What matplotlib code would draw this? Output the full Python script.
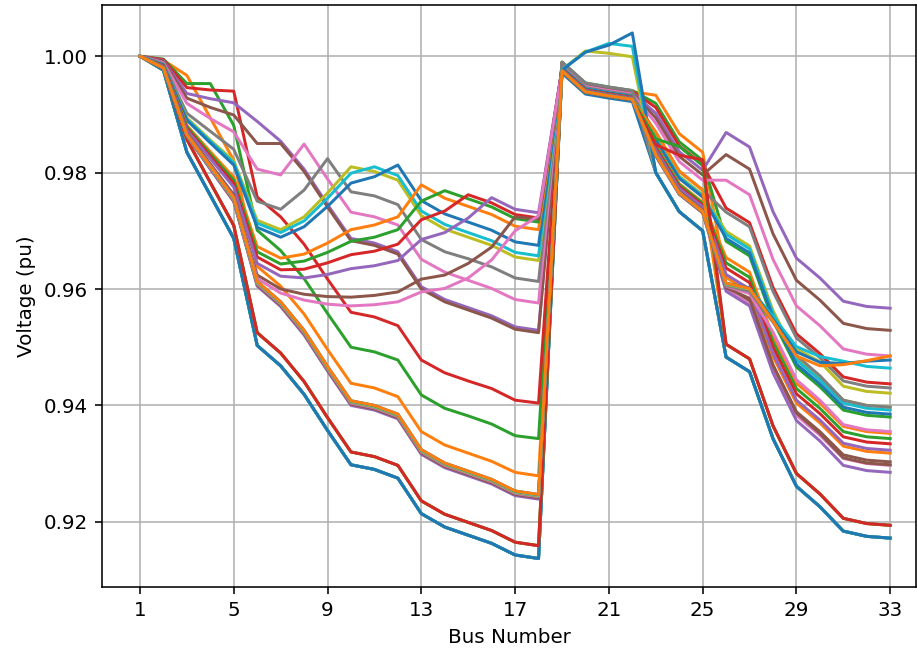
import matplotlib
matplotlib.use("Agg")
import matplotlib.pyplot as plt

# bus numbers of the IEEE 33-bus feeder
bus = list(range(1, 34))

# voltage profiles (pu), one per DG location (bus 2 ... bus 33)
dg02 = [1.0000, 0.9976, 0.9835, 0.9761, 0.9687, 0.9503, 0.9468, 0.9419, 0.9357, 0.9298, 0.9290, 0.9275, 0.9214, 0.9191, 0.9177, 0.9163, 0.9143, 0.9137,
        0.9971, 0.9935, 0.9928, 0.9922, 0.9800, 0.9733, 0.9700,
        0.9483, 0.9458, 0.9343, 0.9261, 0.9226, 0.9184, 0.9175, 0.9172]
dg03 = [1.0000, 0.9993, 0.9967, 0.9894, 0.9821, 0.9639, 0.9605, 0.9557, 0.9496, 0.9438, 0.9430, 0.9415, 0.9355, 0.9332, 0.9318, 0.9304, 0.9285, 0.9279,
        0.9988, 0.9952, 0.9945, 0.9939, 0.9933, 0.9867, 0.9835,
        0.9620, 0.9595, 0.9484, 0.9404, 0.9370, 0.9330, 0.9321, 0.9318]
dg04 = [1.0000, 0.9995, 0.9953, 0.9953, 0.9881, 0.9701, 0.9666, 0.9618, 0.9558, 0.9500, 0.9492, 0.9478, 0.9418, 0.9395, 0.9382, 0.9368, 0.9348, 0.9343,
        0.9990, 0.9954, 0.9947, 0.9941, 0.9919, 0.9853, 0.9821,
        0.9682, 0.9657, 0.9546, 0.9466, 0.9432, 0.9392, 0.9383, 0.9380]
dg05 = [1.0000, 0.9994, 0.9946, 0.9942, 0.9940, 0.9758, 0.9724, 0.9677, 0.9617, 0.9560, 0.9552, 0.9537, 0.9478, 0.9456, 0.9442, 0.9429, 0.9409, 0.9404,
        0.9989, 0.9953, 0.9946, 0.9940, 0.9912, 0.9846, 0.9814,
        0.9739, 0.9714, 0.9603, 0.9523, 0.9489, 0.9449, 0.9440, 0.9437]
dg06 = [1.0000, 0.9992, 0.9936, 0.9927, 0.9920, 0.9888, 0.9854, 0.9806, 0.9745, 0.9687, 0.9679, 0.9664, 0.9604, 0.9582, 0.9568, 0.9554, 0.9535, 0.9529,
        0.9987, 0.9951, 0.9944, 0.9938, 0.9902, 0.9836, 0.9804,
        0.9869, 0.9844, 0.9733, 0.9653, 0.9619, 0.9579, 0.9570, 0.9567]
dg07 = [1.0000, 0.9991, 0.9928, 0.9912, 0.9899, 0.9850, 0.9850, 0.9802, 0.9741, 0.9683, 0.9675, 0.9660, 0.9600, 0.9578, 0.9564, 0.9550, 0.9531, 0.9525,
        0.9986, 0.9950, 0.9943, 0.9937, 0.9894, 0.9828, 0.9796,
        0.9831, 0.9806, 0.9695, 0.9615, 0.9581, 0.9541, 0.9532, 0.9529]
dg08 = [1.0000, 0.9989, 0.9919, 0.9893, 0.9870, 0.9806, 0.9796, 0.9849, 0.9789, 0.9732, 0.9724, 0.9710, 0.9651, 0.9629, 0.9615, 0.9601, 0.9582, 0.9576,
        0.9984, 0.9948, 0.9941, 0.9935, 0.9885, 0.9819, 0.9787,
        0.9787, 0.9762, 0.9651, 0.9571, 0.9537, 0.9497, 0.9488, 0.9485]
dg09 = [1.0000, 0.9987, 0.9902, 0.9871, 0.9840, 0.9751, 0.9737, 0.9770, 0.9824, 0.9767, 0.9760, 0.9745, 0.9685, 0.9664, 0.9652, 0.9638, 0.9619, 0.9613,
        0.9982, 0.9946, 0.9939, 0.9933, 0.9868, 0.9802, 0.9770,
        0.9732, 0.9707, 0.9596, 0.9516, 0.9482, 0.9442, 0.9433, 0.9430]
dg10 = [1.0000, 0.9985, 0.9894, 0.9856, 0.9820, 0.9718, 0.9702, 0.9724, 0.9765, 0.9810, 0.9802, 0.9787, 0.9726, 0.9703, 0.9689, 0.9675, 0.9655, 0.9649,
        0.9980, 0.9944, 0.9937, 0.9931, 0.9860, 0.9794, 0.9762,
        0.9699, 0.9674, 0.9563, 0.9483, 0.9449, 0.9409, 0.9400, 0.9397]
dg11 = [1.0000, 0.9985, 0.9892, 0.9854, 0.9817, 0.9713, 0.9697, 0.9717, 0.9756, 0.9799, 0.9810, 0.9795, 0.9734, 0.9711, 0.9697, 0.9683, 0.9663, 0.9657,
        0.9980, 0.9944, 0.9937, 0.9931, 0.9858, 0.9792, 0.9760,
        0.9694, 0.9669, 0.9558, 0.9478, 0.9444, 0.9404, 0.9395, 0.9392]
dg12 = [1.0000, 0.9985, 0.9890, 0.9851, 0.9813, 0.9706, 0.9689, 0.9707, 0.9742, 0.9782, 0.9793, 0.9813, 0.9752, 0.9729, 0.9715, 0.9701, 0.9681, 0.9675,
        0.9980, 0.9944, 0.9937, 0.9931, 0.9856, 0.9790, 0.9758,
        0.9687, 0.9662, 0.9551, 0.9471, 0.9437, 0.9397, 0.9388, 0.9385]
dg13 = [1.0000, 0.9983, 0.9881, 0.9836, 0.9792, 0.9673, 0.9653, 0.9660, 0.9679, 0.9702, 0.9710, 0.9724, 0.9779, 0.9756, 0.9742, 0.9728, 0.9708, 0.9702,
        0.9978, 0.9942, 0.9935, 0.9929, 0.9847, 0.9781, 0.9749,
        0.9654, 0.9629, 0.9518, 0.9438, 0.9404, 0.9364, 0.9355, 0.9352]
dg14 = [1.0000, 0.9983, 0.9879, 0.9832, 0.9787, 0.9664, 0.9643, 0.9648, 0.9663, 0.9682, 0.9689, 0.9702, 0.9751, 0.9769, 0.9755, 0.9741, 0.9721, 0.9715,
        0.9978, 0.9942, 0.9935, 0.9929, 0.9845, 0.9779, 0.9747,
        0.9645, 0.9620, 0.9509, 0.9429, 0.9395, 0.9355, 0.9346, 0.9343]
dg15 = [1.0000, 0.9983, 0.9876, 0.9828, 0.9781, 0.9655, 0.9633, 0.9634, 0.9645, 0.9659, 0.9665, 0.9677, 0.9719, 0.9734, 0.9762, 0.9748, 0.9728, 0.9722,
        0.9978, 0.9942, 0.9935, 0.9929, 0.9842, 0.9776, 0.9744,
        0.9636, 0.9611, 0.9500, 0.9420, 0.9386, 0.9346, 0.9337, 0.9334]
dg16 = [1.0000, 0.9982, 0.9873, 0.9824, 0.9775, 0.9644, 0.9622, 0.9619, 0.9625, 0.9635, 0.9640, 0.9649, 0.9685, 0.9697, 0.9722, 0.9757, 0.9737, 0.9731,
        0.9977, 0.9941, 0.9934, 0.9928, 0.9839, 0.9773, 0.9741,
        0.9625, 0.9600, 0.9489, 0.9409, 0.9375, 0.9335, 0.9326, 0.9323]
dg17 = [1.0000, 0.9981, 0.9868, 0.9815, 0.9762, 0.9624, 0.9600, 0.9591, 0.9587, 0.9586, 0.9589, 0.9595, 0.9617, 0.9624, 0.9644, 0.9672, 0.9724, 0.9720,
        0.9976, 0.9940, 0.9933, 0.9927, 0.9834, 0.9768, 0.9736,
        0.9605, 0.9580, 0.9469, 0.9389, 0.9355, 0.9315, 0.9306, 0.9303]
dg18 = [1.0000, 0.9980, 0.9866, 0.9812, 0.9758, 0.9618, 0.9593, 0.9581, 0.9574, 0.9571, 0.9573, 0.9578, 0.9595, 0.9601, 0.9619, 0.9650, 0.9700, 0.9726,
        0.9975, 0.9939, 0.9932, 0.9926, 0.9832, 0.9766, 0.9734,
        0.9599, 0.9574, 0.9463, 0.9383, 0.9349, 0.9309, 0.9300, 0.9297]
dg19 = [1.0000, 0.9976, 0.9835, 0.9761, 0.9687, 0.9503, 0.9468, 0.9419, 0.9357, 0.9298, 0.9290, 0.9275, 0.9214, 0.9191, 0.9177, 0.9163, 0.9143, 0.9137,
        0.9990, 0.9954, 0.9947, 0.9941, 0.9800, 0.9733, 0.9700,
        0.9483, 0.9458, 0.9343, 0.9261, 0.9226, 0.9184, 0.9175, 0.9172]
dg20 = [1.0000, 0.9976, 0.9835, 0.9761, 0.9687, 0.9503, 0.9468, 0.9419, 0.9357, 0.9298, 0.9290, 0.9275, 0.9214, 0.9191, 0.9177, 0.9163, 0.9143, 0.9137,
        0.9977, 1.0009, 1.0005, 0.9999, 0.9800, 0.9733, 0.9700,
        0.9483, 0.9458, 0.9343, 0.9261, 0.9226, 0.9184, 0.9175, 0.9172]
dg21 = [1.0000, 0.9976, 0.9835, 0.9761, 0.9687, 0.9503, 0.9468, 0.9419, 0.9357, 0.9298, 0.9290, 0.9275, 0.9214, 0.9191, 0.9177, 0.9163, 0.9143, 0.9137,
        0.9977, 1.0007, 1.0022, 1.0017, 0.9800, 0.9733, 0.9700,
        0.9483, 0.9458, 0.9343, 0.9261, 0.9226, 0.9184, 0.9175, 0.9172]
dg22 = [1.0000, 0.9976, 0.9835, 0.9761, 0.9687, 0.9503, 0.9468, 0.9419, 0.9357, 0.9298, 0.9290, 0.9275, 0.9214, 0.9191, 0.9177, 0.9163, 0.9143, 0.9137,
        0.9976, 1.0007, 1.0019, 1.0040, 0.9800, 0.9733, 0.9700,
        0.9483, 0.9458, 0.9343, 0.9261, 0.9226, 0.9184, 0.9175, 0.9172]
dg23 = [1.0000, 0.9979, 0.9857, 0.9783, 0.9709, 0.9525, 0.9490, 0.9441, 0.9379, 0.9320, 0.9312, 0.9297, 0.9236, 0.9213, 0.9199, 0.9185, 0.9165, 0.9159,
        0.9974, 0.9938, 0.9931, 0.9925, 0.9870, 0.9803, 0.9770,
        0.9505, 0.9480, 0.9365, 0.9283, 0.9248, 0.9206, 0.9197, 0.9194]
dg24 = [1.0000, 0.9979, 0.9857, 0.9783, 0.9709, 0.9525, 0.9490, 0.9441, 0.9379, 0.9320, 0.9312, 0.9297, 0.9236, 0.9213, 0.9199, 0.9185, 0.9165, 0.9159,
        0.9974, 0.9938, 0.9931, 0.9925, 0.9858, 0.9845, 0.9812,
        0.9505, 0.9480, 0.9365, 0.9283, 0.9248, 0.9206, 0.9197, 0.9194]
dg25 = [1.0000, 0.9979, 0.9857, 0.9783, 0.9709, 0.9525, 0.9490, 0.9441, 0.9379, 0.9320, 0.9312, 0.9297, 0.9236, 0.9213, 0.9199, 0.9185, 0.9165, 0.9159,
        0.9974, 0.9938, 0.9931, 0.9925, 0.9848, 0.9830, 0.9822,
        0.9505, 0.9480, 0.9365, 0.9283, 0.9248, 0.9206, 0.9197, 0.9194]
dg26 = [1.0000, 0.9980, 0.9863, 0.9806, 0.9750, 0.9605, 0.9570, 0.9521, 0.9459, 0.9400, 0.9392, 0.9377, 0.9316, 0.9293, 0.9279, 0.9265, 0.9245, 0.9239,
        0.9975, 0.9939, 0.9932, 0.9926, 0.9829, 0.9763, 0.9731,
        0.9596, 0.9571, 0.9456, 0.9374, 0.9339, 0.9297, 0.9288, 0.9285]
dg27 = [1.0000, 0.9980, 0.9863, 0.9807, 0.9751, 0.9607, 0.9572, 0.9523, 0.9461, 0.9402, 0.9394, 0.9379, 0.9318, 0.9295, 0.9281, 0.9267, 0.9247, 0.9241,
        0.9975, 0.9939, 0.9932, 0.9926, 0.9829, 0.9763, 0.9731,
        0.9602, 0.9584, 0.9469, 0.9387, 0.9352, 0.9310, 0.9301, 0.9298]
dg28 = [1.0000, 0.9980, 0.9864, 0.9808, 0.9753, 0.9609, 0.9574, 0.9525, 0.9463, 0.9404, 0.9396, 0.9381, 0.9320, 0.9297, 0.9283, 0.9269, 0.9249, 0.9243,
        0.9975, 0.9939, 0.9932, 0.9926, 0.9830, 0.9764, 0.9732,
        0.9605, 0.9592, 0.9526, 0.9444, 0.9409, 0.9367, 0.9358, 0.9355]
dg29 = [1.0000, 0.9980, 0.9864, 0.9809, 0.9754, 0.9610, 0.9575, 0.9526, 0.9464, 0.9405, 0.9397, 0.9382, 0.9321, 0.9298, 0.9284, 0.9270, 0.9250, 0.9244,
        0.9975, 0.9939, 0.9932, 0.9926, 0.9830, 0.9764, 0.9732,
        0.9606, 0.9596, 0.9543, 0.9486, 0.9451, 0.9409, 0.9400, 0.9397]
dg30 = [1.0000, 0.9980, 0.9865, 0.9810, 0.9755, 0.9611, 0.9576, 0.9527, 0.9465, 0.9406, 0.9398, 0.9383, 0.9322, 0.9299, 0.9285, 0.9271, 0.9251, 0.9245,
        0.9975, 0.9939, 0.9932, 0.9926, 0.9831, 0.9765, 0.9733,
        0.9608, 0.9600, 0.9550, 0.9497, 0.9475, 0.9433, 0.9424, 0.9421]
dg31 = [1.0000, 0.9980, 0.9865, 0.9810, 0.9756, 0.9612, 0.9577, 0.9528, 0.9466, 0.9407, 0.9399, 0.9384, 0.9323, 0.9300, 0.9286, 0.9272, 0.9252, 0.9246,
        0.9975, 0.9939, 0.9932, 0.9926, 0.9831, 0.9765, 0.9733,
        0.9609, 0.9601, 0.9553, 0.9501, 0.9484, 0.9476, 0.9467, 0.9464]
dg32 = [1.0000, 0.9980, 0.9865, 0.9811, 0.9757, 0.9613, 0.9578, 0.9529, 0.9467, 0.9408, 0.9400, 0.9385, 0.9324, 0.9301, 0.9287, 0.9273, 0.9253, 0.9247,
        0.9975, 0.9939, 0.9932, 0.9926, 0.9831, 0.9765, 0.9733,
        0.9610, 0.9602, 0.9548, 0.9492, 0.9474, 0.9472, 0.9476, 0.9478]
dg33 = [1.0000, 0.9980, 0.9865, 0.9811, 0.9757, 0.9613, 0.9578, 0.9529, 0.9467, 0.9408, 0.9400, 0.9385, 0.9324, 0.9301, 0.9287, 0.9273, 0.9253, 0.9247,
        0.9975, 0.9939, 0.9932, 0.9926, 0.9831, 0.9765, 0.9733,
        0.9610, 0.9601, 0.9545, 0.9485, 0.9468, 0.9470, 0.9477, 0.9485]

profiles = [dg02, dg03, dg04, dg05, dg06, dg07, dg08, dg09, dg10, dg11, dg12,
            dg13, dg14, dg15, dg16, dg17, dg18, dg19, dg20, dg21, dg22, dg23,
            dg24, dg25, dg26, dg27, dg28, dg29, dg30, dg31, dg32, dg33]

xticks = [1, 5, 9, 13, 17, 21, 25, 29, 33]
yticks = [0.92, 0.94, 0.96, 0.98, 1.00]

dpi = 143
fig = plt.figure(figsize=(918 / dpi, 655 / dpi), dpi=dpi)
ax = fig.add_axes([102 / 918, 68 / 655, 814 / 918, 582 / 655])

for v in profiles:
    ax.plot(bus, v)

ax.set_xlim(-0.62, 34.1)
ax.set_ylim(0.9088, 1.0088)
ax.set_xticks(xticks)
ax.set_yticks(yticks)
ax.set_yticklabels(["%.2f" % t for t in yticks])
ax.grid(True)
ax.set_xlabel("Bus Number")
ax.set_ylabel("Voltage (pu)")

fig.savefig("out.png", dpi=dpi)
